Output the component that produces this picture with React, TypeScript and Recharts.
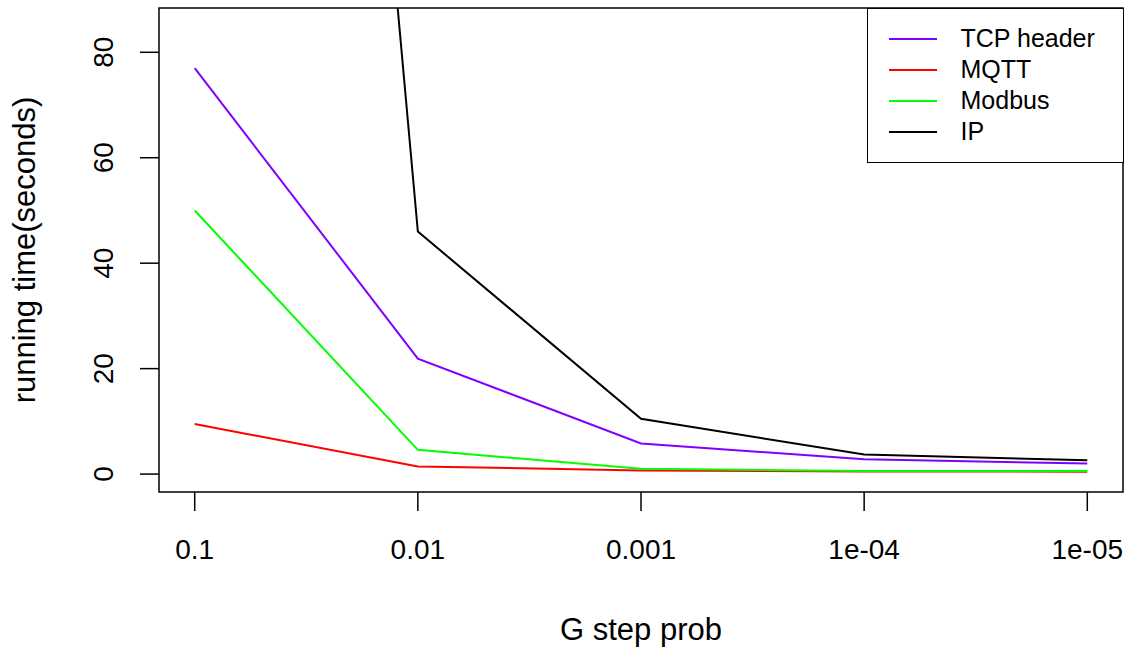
import React from 'react';
import { LineChart, Line, XAxis, YAxis, ReferenceArea } from 'recharts';

const categories = ['0.1', '0.01', '0.001', '1e-04', '1e-05'];
const xPositions = [1, 2, 3, 4, 5];
const tcpHeader = [77.0, 21.9, 5.8, 2.8, 2.0];
const mqtt = [9.5, 1.45, 0.7, 0.5, 0.45];
const modbus = [50.0, 4.6, 1.0, 0.6, 0.6];
const ip = [515, 46.0, 10.5, 3.7, 2.6];
const yTicks = [0, 20, 40, 60, 80];

const seriesList = [
  { key: 'tcp', name: 'TCP header', color: '#7F00FF', values: tcpHeader },
  { key: 'mqtt', name: 'MQTT', color: '#FF0000', values: mqtt },
  { key: 'modbus', name: 'Modbus', color: '#00FF00', values: modbus },
  { key: 'ip', name: 'IP', color: '#000000', values: ip },
];

const data = xPositions.map((x, i) => {
  const row: any = { x, label: categories[i] };
  seriesList.forEach((s) => {
    row[s.key] = s.values[i];
  });
  return row;
});

const FONT = '"Liberation Sans", Arial, Helvetica, sans-serif';

const XTick = (props: any) => {
  const { x, y, payload } = props;
  return (
    <text x={x} y={y + 46} textAnchor="middle" fontSize={28} fontFamily={FONT} fill="#000">
      {categories[payload.value - 1]}
    </text>
  );
};

const YTick = (props: any) => {
  const { x, y, payload } = props;
  const bx = x - 25;
  return (
    <text
      x={bx}
      y={y}
      textAnchor="middle"
      fontSize={28}
      fontFamily={FONT}
      fill="#000"
      transform={`rotate(-90, ${bx}, ${y})`}
    >
      {payload.value}
    </text>
  );
};

const XTitle = (props: any) => {
  const vb = props.viewBox;
  return (
    <text x={vb.x + vb.width / 2} y={640} textAnchor="middle" fontSize={31} fontFamily={FONT} fill="#000">
      G step prob
    </text>
  );
};

const YTitle = (props: any) => {
  const vb = props.viewBox;
  const cy = vb.y + vb.height / 2;
  return (
    <text
      x={35}
      y={cy}
      textAnchor="middle"
      fontSize={31}
      fontFamily={FONT}
      fill="#000"
      transform={`rotate(-90, 35, ${cy})`}
    >
      running time(seconds)
    </text>
  );
};

const LegendBox = () => (
  <div
    style={{
      position: 'absolute',
      left: 867,
      top: 8,
      width: 257,
      height: 155,
      boxSizing: 'border-box',
      border: '1.5px solid #000',
      background: '#fff',
      fontFamily: FONT,
    }}
  >
    {seriesList.map((s, i) => (
      <div
        key={s.key}
        style={{
          position: 'absolute',
          left: 0,
          top: 31 + i * 31 - 15 - 1.5,
          height: 30,
          display: 'flex',
          alignItems: 'center',
          whiteSpace: 'nowrap',
        }}
      >
        <div style={{ marginLeft: 20.5, width: 48, height: 2, background: s.color }} />
        <div style={{ marginLeft: 24, fontSize: 25, color: '#000' }}>{s.name}</div>
      </div>
    ))}
  </div>
);

export default function App() {
  return (
    <div style={{ position: 'absolute', left: 0, top: 0, width: 1135, height: 648, background: '#fff' }}>
      <LineChart width={1135} height={648} data={data} margin={{ top: 8, right: 12, left: 0, bottom: 0 }}>
        <XAxis
          type="number"
          dataKey="x"
          domain={[0.84, 5.16]}
          ticks={xPositions}
          height={156}
          axisLine={false}
          tickSize={19}
          tickLine={{ stroke: '#000', strokeWidth: 1.5 }}
          tick={<XTick />}
          label={<XTitle />}
          allowDataOverflow
        />
        <YAxis
          type="number"
          domain={[-3.4, 88.4]}
          ticks={yTicks}
          width={159}
          axisLine={false}
          tickSize={19}
          tickLine={{ stroke: '#000', strokeWidth: 1.5 }}
          tick={<YTick />}
          label={<YTitle />}
          allowDataOverflow
        />
        <ReferenceArea
          x1={0.84}
          x2={5.16}
          y1={-3.4}
          y2={88.4}
          fill="none"
          fillOpacity={0}
          stroke="#000"
          strokeWidth={1.5}
          ifOverflow="visible"
        />
        {seriesList.map((s) => (
          <Line
            key={s.key}
            type="linear"
            dataKey={s.key}
            name={s.name}
            stroke={s.color}
            strokeWidth={2}
            dot={false}
            activeDot={false}
            isAnimationActive={false}
          />
        ))}
      </LineChart>
      <LegendBox />
    </div>
  );
}
